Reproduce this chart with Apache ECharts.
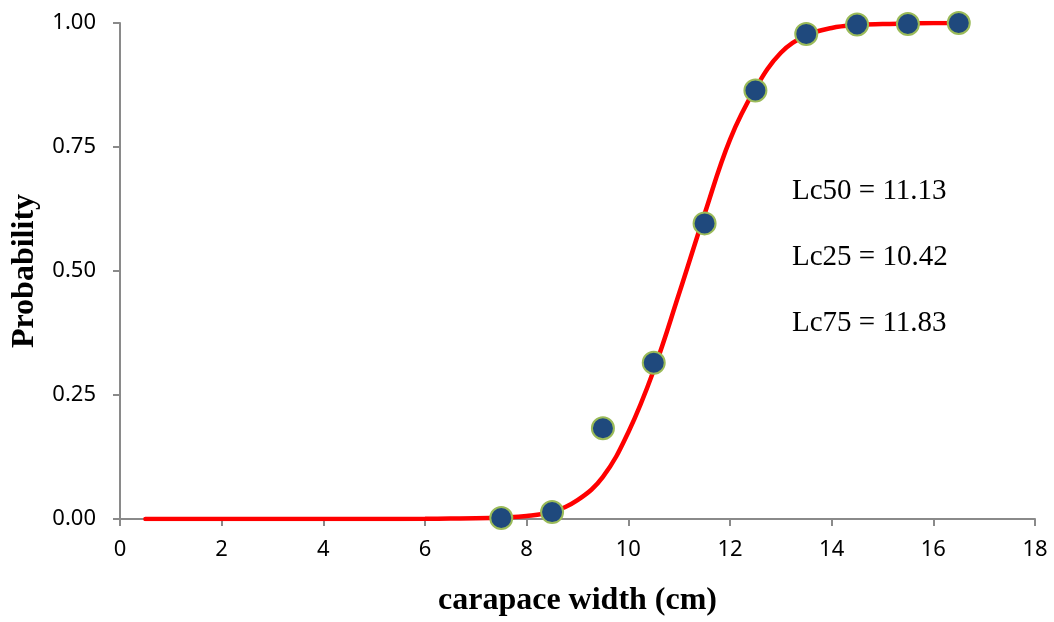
<!DOCTYPE html>
<html>
<head>
<meta charset="utf-8">
<script src="https://cdn.jsdelivr.net/npm/echarts@6/dist/echarts.min.js"></script>
<style>html,body{margin:0;padding:0;background:#fff;}#c{width:1054px;height:622px;}</style>
</head>
<body>
<div id="c"></div>
<script>
// Observed data points
var obsX = [7.5, 8.5, 9.5, 10.5, 11.5, 12.5, 13.5, 14.5, 15.5, 16.5];
var obsY = [0.002, 0.014, 0.183, 0.315, 0.596, 0.864, 0.978, 0.997, 0.998, 1.0];
// Fitted curve
var curveX = [0.5, 1, 2, 3, 4, 5, 6, 6.5, 7, 7.5, 8, 8.5, 9, 9.5, 10, 10.5, 11, 11.5, 12, 12.5, 13, 13.5, 14, 14.5, 15, 15.5, 16, 16.5];
var curveY = [0, 0, 0, 0, 0, 0, 0.0005, 0.001, 0.0015, 0.003, 0.006, 0.015, 0.038, 0.085, 0.175, 0.300, 0.455, 0.615, 0.765, 0.868, 0.940, 0.975, 0.990, 0.996, 0.998, 0.999, 1.0, 1.0];
var xTicks = {min: 0, max: 18, interval: 2};
var yTicks = {min: 0, max: 1, interval: 0.25};
var notes = ['Lc50 = 11.13', 'Lc25 = 10.42', 'Lc75 = 11.83'];

var chart = echarts.init(document.getElementById('c'));
var axisCol = '#8a8a8a';
var tickFont = {fontFamily: 'Noto Sans', fontSize: 22, color: '#000'};
chart.setOption({
  animation: false,
  grid: {left: 120, right: 19, top: 23, bottom: 99, containLabel: false},
  xAxis: {
    type: 'value', min: xTicks.min, max: xTicks.max, interval: xTicks.interval,
    name: 'carapace width (cm)', nameLocation: 'middle', nameGap: 66,
    nameTextStyle: {fontFamily: 'Liberation Serif', fontWeight: 'bold', fontSize: 32, color: '#000'},
    axisLine: {show: true, lineStyle: {color: axisCol, width: 2}},
    axisTick: {show: true, inside: false, length: 7, lineStyle: {color: axisCol, width: 2}},
    axisLabel: Object.assign({margin: 20}, tickFont),
    splitLine: {show: false}
  },
  yAxis: {
    type: 'value', min: yTicks.min, max: yTicks.max, interval: yTicks.interval,
    name: 'Probability', nameLocation: 'middle', nameGap: 79,
    nameTextStyle: {fontFamily: 'Liberation Serif', fontWeight: 'bold', fontSize: 32, color: '#000'},
    axisLine: {show: true, lineStyle: {color: axisCol, width: 2}},
    axisTick: {show: true, inside: false, length: 7, lineStyle: {color: axisCol, width: 2}},
    axisLabel: Object.assign({margin: 24, formatter: function (v) { return v.toFixed(2); }}, tickFont),
    splitLine: {show: false}
  },
  graphic: notes.map(function (t, i) {
    return {type: 'text', left: 792, top: 177 + i * 66,
      style: {text: t, fontFamily: 'Liberation Serif', fontSize: 29, fill: '#000'}};
  }),
  series: [
    {
      type: 'line', smooth: 0.4, showSymbol: false, z: 2,
      data: curveX.map(function (x, i) { return [x, curveY[i]]; }),
      lineStyle: {color: '#ff0000', width: 4.5, cap: 'round'}
    },
    {
      type: 'scatter', symbol: 'circle', symbolSize: 22, z: 3,
      data: obsX.map(function (x, i) { return [x, obsY[i]]; }),
      itemStyle: {color: '#1f497d', borderColor: '#9bbb59', borderWidth: 2, opacity: 1}
    }
  ]
});
</script>
</body>
</html>
